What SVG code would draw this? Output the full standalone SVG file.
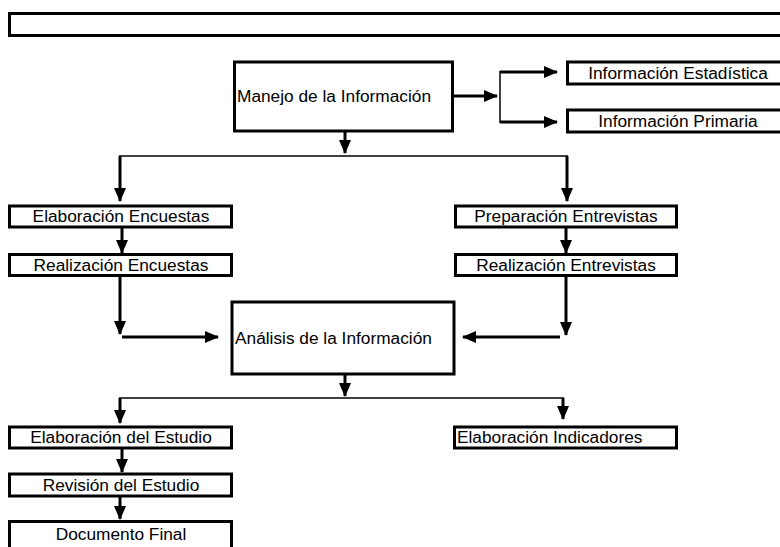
<svg xmlns="http://www.w3.org/2000/svg" width="780" height="547" viewBox="0 0 780 547">
<style>
.box{fill:#fff;stroke:#000;stroke-width:3}
.t{font-family:"Liberation Sans",Arial,sans-serif;font-size:17.3px;fill:#000}
.c{text-anchor:middle}
.thick{stroke:#000;stroke-width:3;fill:none}
.thin{stroke:#000;stroke-width:1.5;fill:none}
</style>
<defs>
<marker id="ah" viewBox="0 0 14 12" refX="13" refY="6" markerWidth="14" markerHeight="12" markerUnits="userSpaceOnUse" orient="auto">
<path d="M0,0 L14,6 L0,12 z" fill="#000"/>
</marker>
</defs>
<rect x="0" y="0" width="780" height="547" fill="#fff"/>
<g id="title"><rect class="box" x="9.5" y="13.5" width="780" height="22"/></g>
<g id="connectors">
<line class="thick" x1="453" y1="96" x2="497" y2="96" marker-end="url(#ah)"/>
<line class="thin" x1="500" y1="71" x2="500" y2="123"/>
<line class="thick" x1="500" y1="72" x2="557" y2="72" marker-end="url(#ah)"/>
<line class="thick" x1="500" y1="122" x2="557" y2="122" marker-end="url(#ah)"/>
<line class="thick" x1="345" y1="132" x2="345" y2="153" marker-end="url(#ah)"/>
<line class="thin" x1="119" y1="156" x2="568" y2="156"/>
<line class="thick" x1="120" y1="156" x2="120" y2="201" marker-end="url(#ah)"/>
<line class="thick" x1="567" y1="156" x2="567" y2="201" marker-end="url(#ah)"/>
<line class="thick" x1="122" y1="228" x2="122" y2="253" marker-end="url(#ah)"/>
<line class="thick" x1="566" y1="228" x2="566" y2="253" marker-end="url(#ah)"/>
<line class="thick" x1="120" y1="276" x2="120" y2="334" marker-end="url(#ah)"/>
<line class="thick" x1="122" y1="337" x2="218" y2="337" marker-end="url(#ah)"/>
<line class="thick" x1="566" y1="276" x2="566" y2="335" marker-end="url(#ah)"/>
<line class="thick" x1="560" y1="337" x2="463" y2="337" marker-end="url(#ah)"/>
<line class="thick" x1="345" y1="374" x2="345" y2="396" marker-end="url(#ah)"/>
<line class="thin" x1="119" y1="398" x2="564" y2="398"/>
<line class="thick" x1="120" y1="398" x2="120" y2="423" marker-end="url(#ah)"/>
<line class="thick" x1="563" y1="398" x2="563" y2="419" marker-end="url(#ah)"/>
<line class="thick" x1="122" y1="449" x2="122" y2="472" marker-end="url(#ah)"/>
<line class="thick" x1="120" y1="497" x2="120" y2="519" marker-end="url(#ah)"/>
</g>
<g id="manejo"><rect class="box" x="234.5" y="62" width="218" height="69"/><text class="t" x="237" y="102">Manejo de la Información</text></g>
<g id="info-estadistica"><rect class="box" x="567.5" y="62" width="220" height="22"/><text class="t c" x="678" y="79">Información Estadística</text></g>
<g id="info-primaria"><rect class="box" x="567.5" y="110" width="220" height="22"/><text class="t c" x="678" y="127">Información Primaria</text></g>
<g id="elab-encuestas"><rect class="box" x="9.5" y="206" width="222" height="21"/><text class="t c" x="121" y="222">Elaboración Encuestas</text></g>
<g id="real-encuestas"><rect class="box" x="9.5" y="254.5" width="222" height="21"/><text class="t c" x="121" y="271">Realización Encuestas</text></g>
<g id="prep-entrevistas"><rect class="box" x="455.5" y="206" width="221" height="21"/><text class="t c" x="566" y="222">Preparación Entrevistas</text></g>
<g id="real-entrevistas"><rect class="box" x="455.5" y="254.5" width="221" height="21"/><text class="t c" x="566" y="271">Realización Entrevistas</text></g>
<g id="analisis"><rect class="box" x="232" y="302" width="222" height="72"/><text class="t" x="235" y="344">Análisis de la Información</text></g>
<g id="elab-estudio"><rect class="box" x="9.5" y="427" width="222" height="21"/><text class="t c" x="121" y="443">Elaboración del Estudio</text></g>
<g id="elab-indicadores"><rect class="box" x="454.5" y="427" width="222" height="21"/><text class="t" x="457" y="443">Elaboración Indicadores</text></g>
<g id="revision"><rect class="box" x="9.5" y="474" width="222" height="22"/><text class="t c" x="121" y="491">Revisión del Estudio</text></g>
<g id="documento"><rect class="box" x="9.5" y="521.5" width="222" height="40"/><text class="t c" x="121" y="540">Documento Final</text></g>
</svg>
